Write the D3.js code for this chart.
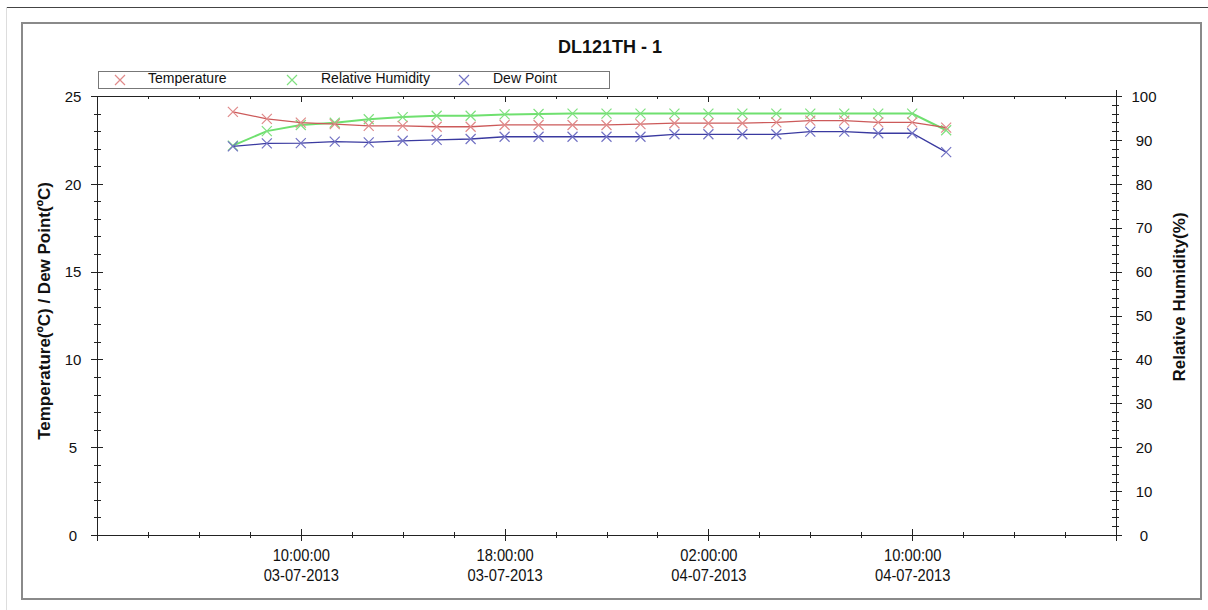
<!DOCTYPE html>
<html>
<head>
<meta charset="utf-8">
<script src="https://cdn.jsdelivr.net/npm/d3@7"></script>
<style>
  html, body { margin: 0; padding: 0; background: #fff; }
  svg { display: block; font-family: "Liberation Sans", Arial, sans-serif; }
</style>
</head>
<body>
<svg id="chart" width="1208" height="610"></svg>
<script>
// ---------------- data ----------------
const chartTitle = "DL121TH - 1";
const times = [
  "2013-07-03 07:20", "2013-07-03 08:40", "2013-07-03 10:00", "2013-07-03 11:20",
  "2013-07-03 12:40", "2013-07-03 14:00", "2013-07-03 15:20", "2013-07-03 16:40",
  "2013-07-03 18:00", "2013-07-03 19:20", "2013-07-03 20:40", "2013-07-03 22:00",
  "2013-07-03 23:20", "2013-07-04 00:40", "2013-07-04 02:00", "2013-07-04 03:20",
  "2013-07-04 04:40", "2013-07-04 06:00", "2013-07-04 07:20", "2013-07-04 08:40",
  "2013-07-04 10:00", "2013-07-04 11:20"
];
const temperature = [24.1, 23.7, 23.48, 23.4, 23.3, 23.3, 23.25, 23.25, 23.35, 23.35, 23.35,
                     23.35, 23.4, 23.45, 23.45, 23.45, 23.5, 23.6, 23.6, 23.5, 23.5, 23.2];
const humidity = [88.7, 92.0, 93.4, 93.9, 94.7, 95.2, 95.5, 95.5, 95.8, 95.9, 96.0,
                  96.0, 96.0, 96.0, 96.0, 96.0, 96.0, 96.0, 96.0, 96.0, 96.0, 92.2];
const dewPoint = [22.13, 22.3, 22.32, 22.4, 22.36, 22.45, 22.5, 22.55, 22.68, 22.68, 22.68,
                  22.68, 22.68, 22.82, 22.82, 22.82, 22.82, 22.97, 22.97, 22.88, 22.88, 21.8];
const xDomain = ["2013-07-03 02:00", "2013-07-04 18:00"];
const xLabelTicks = ["2013-07-03 10:00", "2013-07-03 18:00", "2013-07-04 02:00", "2013-07-04 10:00"];
const leftDomain = [0, 25];
const rightDomain = [0, 100];
const seriesNames = ["Temperature", "Relative Humidity", "Dew Point"];
const leftTitle = "Temperature(ºC) / Dew Point(ºC)";
const rightTitle = "Relative Humidity(%)";

// ---------------- setup ----------------
const parse = d3.timeParse("%Y-%m-%d %H:%M");
const dates = times.map(parse);
const svg = d3.select("#chart");
const L = 97, R = 1116, T = 96, B = 535;

const x = d3.scaleTime().domain(xDomain.map(parse)).range([L, R]);
const yL = d3.scaleLinear().domain(leftDomain).range([B, T]);
const yR = d3.scaleLinear().domain(rightDomain).range([B, T]);

// frames
svg.append("line").attr("x1", 6).attr("x2", 1208).attr("y1", 7.5).attr("y2", 7.5)
  .attr("stroke", "#444").attr("stroke-width", 1);
svg.append("line").attr("x1", 6.5).attr("x2", 6.5).attr("y1", 7).attr("y2", 610)
  .attr("stroke", "#ddd").attr("stroke-width", 1);
svg.append("rect").attr("x", 22).attr("y", 23).attr("width", 1179).attr("height", 576)
  .attr("fill", "none").attr("stroke", "#8a8a8a").attr("stroke-width", 2);

// title
svg.append("text").attr("x", 610).attr("y", 53).attr("text-anchor", "middle")
  .attr("font-size", 18).attr("font-weight", "bold").attr("fill", "#111").text(chartTitle);

const axisColor = "#222";
const g = svg.append("g").attr("stroke", axisColor).attr("stroke-width", 1);

// bottom axis line + ticks, mirrored ticks on top frame
g.append("line").attr("x1", L).attr("x2", R).attr("y1", B + 0.5).attr("y2", B + 0.5);
g.append("line").attr("x1", 92).attr("x2", R + 6).attr("y1", T + 0.5).attr("y2", T + 0.5);
const xMinor = x.ticks(d3.timeHour.every(2));
xMinor.forEach(d => {
  const major = d.getHours() % 8 === 2;
  const px = Math.round(x(d)) + 0.5;
  g.append("line").attr("x1", px).attr("x2", px)
    .attr("y1", B - (major ? 6 : 3)).attr("y2", B + (major ? 6 : 3));
  g.append("line").attr("x1", px).attr("x2", px)
    .attr("y1", T).attr("y2", T + (major ? 6 : 3));
});

// x labels via d3 axis
const xAxis = d3.axisBottom(x).tickValues(xLabelTicks.map(parse)).tickSize(0).tickFormat("");
const xa = svg.append("g").attr("transform", `translate(0,${B})`).call(xAxis);
xa.select(".domain").remove();
xa.selectAll(".tick").each(function(d) {
  const t = d3.select(this).append("text").attr("fill", "#111").attr("font-size", 16)
    .attr("text-anchor", "middle").attr("transform", "scale(0.92,1)");
  t.append("tspan").attr("x", 0).attr("y", 26).text(d3.timeFormat("%H:%M:%S")(d));
  t.append("tspan").attr("x", 0).attr("y", 46).text(d3.timeFormat("%d-%m-%Y")(d));
});

// left axis
g.append("line").attr("x1", L + 0.5).attr("x2", L + 0.5).attr("y1", T).attr("y2", B + 6);
d3.range(0, 26, 1).forEach(v => {
  const py = Math.round(yL(v)) + 0.5;
  const major = v % 5 === 0;
  g.append("line").attr("x1", L - (major ? 6 : 3)).attr("x2", L + (major ? 6 : 4)).attr("y1", py).attr("y2", py);
});
const la = svg.append("g").attr("transform", `translate(${L},0)`)
  .call(d3.axisLeft(yL).tickValues(d3.range(0, 26, 5)).tickSize(0).tickPadding(0));
la.select(".domain").remove();
la.selectAll("text").attr("font-size", 15).attr("fill", "#111")
  .attr("font-family", "'Liberation Sans', Arial, sans-serif")
  .attr("text-anchor", "middle").attr("x", -24).attr("dy", "0.35em");

// right axis
g.append("line").attr("x1", R + 0.5).attr("x2", R + 0.5).attr("y1", T - 6).attr("y2", B + 6);
d3.range(0, 101, 2).forEach(v => {
  const py = Math.round(yR(v)) + 0.5;
  const major = v % 10 === 0;
  g.append("line").attr("x1", R - (major ? 6 : 4)).attr("x2", R + (major ? 6 : 3)).attr("y1", py).attr("y2", py);
});
const ra = svg.append("g").attr("transform", `translate(${R},0)`)
  .call(d3.axisRight(yR).tickValues(d3.range(0, 101, 10)).tickSize(0).tickPadding(0));
ra.select(".domain").remove();
ra.selectAll("text").attr("font-size", 15).attr("fill", "#111")
  .attr("font-family", "'Liberation Sans', Arial, sans-serif")
  .attr("text-anchor", "middle").attr("x", 28).attr("dy", "0.35em");

// axis titles
svg.append("text").attr("transform", "translate(50,311) rotate(-90)").attr("text-anchor", "middle")
  .attr("font-size", 17).attr("font-weight", "bold").attr("fill", "#111").text(leftTitle);
svg.append("text").attr("transform", "translate(1185,297) rotate(-90)").attr("text-anchor", "middle")
  .attr("font-size", 17).attr("font-weight", "bold").attr("fill", "#111").text(rightTitle);

// series
const series = [
  { name: seriesNames[1], values: humidity, y: yR, line: "#6fe06f", mark: "#7fe07f", w: 2 },
  { name: seriesNames[0], values: temperature, y: yL, line: "#cc5a5a", mark: "#e08a8a", w: 1.3 },
  { name: seriesNames[2], values: dewPoint, y: yL, line: "#3a3aa0", mark: "#7272c4", w: 1.3 }
];
const cross = (sel, s) => sel.attr("d", `M${-s},${-s}L${s},${s}M${-s},${s}L${s},${-s}`);
series.forEach(s => {
  const line = d3.line().x((d, i) => x(dates[i])).y(d => s.y(d));
  svg.append("path").datum(s.values).attr("d", line).attr("fill", "none")
    .attr("stroke", s.line).attr("stroke-width", s.w);
  svg.append("g").selectAll("path").data(s.values).join("path")
    .attr("transform", (d, i) => `translate(${x(dates[i])},${s.y(d)})`)
    .call(cross, 5).attr("stroke", s.mark).attr("stroke-width", 1.2).attr("fill", "none");
});

// legend
const lg = svg.append("g");
lg.append("rect").attr("x", 98.5).attr("y", 71.5).attr("width", 511).attr("height", 17)
  .attr("fill", "#fff").attr("stroke", "#777").attr("stroke-width", 1);
const legendItems = [
  { name: seriesNames[0], mark: "#e08a8a", sx: 120, tx: 148 },
  { name: seriesNames[1], mark: "#7fe07f", sx: 292, tx: 321 },
  { name: seriesNames[2], mark: "#7272c4", sx: 464, tx: 493 }
];
legendItems.forEach(it => {
  lg.append("path").attr("transform", `translate(${it.sx},80)`).call(cross, 5)
    .attr("stroke", it.mark).attr("stroke-width", 1.2);
  lg.append("text").attr("x", it.tx).attr("y", 83).attr("font-size", 14)
    .attr("fill", "#111").text(it.name);
});
</script>
</body>
</html>
